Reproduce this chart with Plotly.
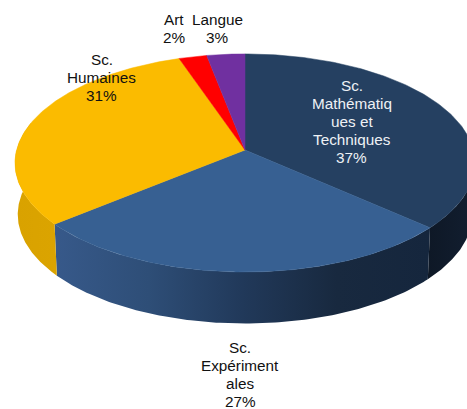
import numpy as np
import plotly.graph_objects as go

categories = ["Sc. Mathématiques et Techniques", "Sc. Expérimentales", "Sc. Humaines", "Art", "Langue"]
values = [36.6, 27.4, 30.8, 2.2, 3]
top_colors = ["#254061", "#376092", "#FBBB00", "#FF0000", "#7030A0"]
wall_scales = [
    [[0, "#0E1826"], [1, "#121E30"]],
    [[0, "#37598A"], [0.25, "#2E4E77"], [0.5, "#21395A"], [0.75, "#18293F"], [1, "#15263D"]],
    [[0, "#D9A200"], [1, "#DBA400"]],
    None,
    None,
]
label_lines = [
    ["Sc.", "Mathématiq", "ues et", "Techniques", "37%"],
    ["Sc.", "Expériment", "ales", "27%"],
    ["Sc.", "Humaines", "31%"],
    ["Art", "2%"],
    ["Langue", "3%"],
]
label_centers = [(351.5, 85), (240, 347.5), (101.5, 59), (174, 19), (217, 19)]
label_colors = ["#EEF1F5", "#111111", "#111111", "#111111", "#111111"]

W, H = 467, 409
CX, CY = 245, 150
A, B, K = 228.4, 107.5, 0.119
DEPTH = 51.5
LINE_H = 18


def project(theta, depth=0.0, shrink=1.0):
    u, v = np.sin(theta), np.cos(theta)
    d = 1 + K * v
    return CX + shrink * A * u / d, CY - B * v / d + depth


fractions = np.array(values, dtype=float) / sum(values)
edges = np.concatenate([[0], np.cumsum(fractions)]) * 2 * np.pi

fig = go.Figure()

# side walls, limited to the part of each slice facing the viewer
front_lo, front_hi = np.radians(84), np.radians(285)
for i in range(len(values)):
    lo, hi = max(edges[i], front_lo), min(edges[i + 1], front_hi)
    if hi <= lo or wall_scales[i] is None:
        continue
    t = np.linspace(lo, hi, 120)
    x1, y1 = project(t)
    x2, y2 = project(t[::-1], DEPTH, 0.988)
    fig.add_trace(go.Scatter(
        x=np.concatenate([x1, x2]), y=np.concatenate([y1, y2]),
        mode="lines", line=dict(width=0), fill="toself",
        fillgradient=dict(type="horizontal", colorscale=wall_scales[i]),
        hoverinfo="skip", showlegend=False,
    ))

# top faces
for i, name in enumerate(categories):
    t = np.linspace(edges[i], edges[i + 1], 160)
    xr, yr = project(t)
    fig.add_trace(go.Scatter(
        x=np.concatenate([[CX], xr, [CX]]), y=np.concatenate([[CY], yr, [CY]]),
        mode="lines", line=dict(width=0.5, color=top_colors[i]),
        fill="toself", fillcolor=top_colors[i], name=name, showlegend=False,
    ))

annotations = []
for lines, (lx, ly), c in zip(label_lines, label_centers, label_colors):
    for j, s in enumerate(lines):
        annotations.append(dict(
            x=lx, y=ly + j * LINE_H, text=s, showarrow=False, xanchor="center", yanchor="middle",
            font=dict(family="Liberation Sans", size=15.3, color=c),
        ))

fig.update_layout(
    width=W, height=H, margin=dict(l=0, r=0, t=0, b=0),
    paper_bgcolor="white", plot_bgcolor="white", showlegend=False,
    xaxis=dict(range=[0, W], visible=False, fixedrange=True),
    yaxis=dict(range=[H, 0], visible=False, fixedrange=True),
    annotations=annotations,
)
fig.write_html(
    "out.html",
    config=dict(displayModeBar=False),
    post_script="document.body.style.margin='0';document.documentElement.style.overflow='hidden';",
)
